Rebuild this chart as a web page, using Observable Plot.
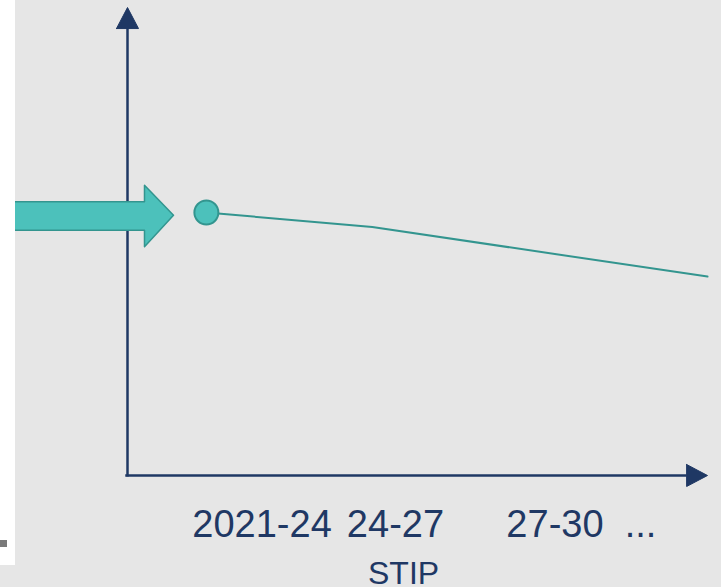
<!DOCTYPE html>
<html>
<head>
<meta charset="utf-8">
<script src="https://cdn.jsdelivr.net/npm/d3@7"></script>
<script src="https://cdn.jsdelivr.net/npm/@observablehq/plot@0.6"></script>
<style>
  html, body { margin: 0; padding: 0; background: #e6e6e6; }
  #wrap { position: relative; width: 721px; height: 587px; overflow: hidden; }
  #strip { position: absolute; left: 0; top: 0; width: 15px; height: 565px; background: #ffffff; }
  #sq { position: absolute; left: 0; top: 540px; width: 7px; height: 7px; background: #7a7a7a; }
</style>
</head>
<body>
<div id="wrap"></div>
<script>
// Period labels on the x axis and their positions (x units)
const periods = ["2021-24", "24-27", "27-30", "..."];
const periodPos = [23.2, 46.2, 73.7, 88.45];
const axisTitle = "STIP";

// Trajectory series (x units, y units)
const seriesX = [13.6, 42.2, 100];
const seriesY = [56.2, 53.1, 42.5];

// Annotation: block arrow pointing at the starting point
const blockArrowX = [-25, 2.93, 2.93, 7.93, 2.93, 2.93, -25, -25];
const blockArrowY = [58.5, 58.5, 62.0, 55.6, 48.9, 52.4, 52.4, 58.5];

const navy = "#1f3864";
const teal = "#4cc1bb";
const tealDark = "#33958f";

const series = seriesX.map((x, i) => ({x, y: seriesY[i]}));
const blockArrow = blockArrowX.map((x, i) => ({x, y: blockArrowY[i]}));
const yHead = [{x: -1.9, y: 95.5}, {x: 0, y: 100}, {x: 1.9, y: 95.5}, {x: -1.9, y: 95.5}];
const xHead = [{x: 96.4, y: 2.35}, {x: 100, y: 0}, {x: 96.4, y: -2.35}, {x: 96.4, y: 2.35}];

const chart = Plot.plot({
  width: 721,
  height: 587,
  marginLeft: 127,
  marginRight: 14,
  marginTop: 7,
  marginBottom: 112,
  x: {domain: [0, 100], label: null},
  y: {domain: [0, 100], axis: null},
  style: {background: "#e6e6e6", fontFamily: "'Liberation Sans', Arial, sans-serif", overflow: "visible"},
  marks: [
    Plot.ruleX([0], {y1: -0.3, y2: 96, stroke: navy, strokeWidth: 2.5}),
    Plot.ruleY([0], {x1: -0.3, x2: 96.5, stroke: navy, strokeWidth: 2.5}),
    Plot.line(yHead, {x: "x", y: "y", fill: navy, stroke: navy, strokeWidth: 1}),
    Plot.line(xHead, {x: "x", y: "y", fill: navy, stroke: navy, strokeWidth: 1}),
    Plot.axisX({
      ticks: periodPos,
      tickFormat: (d, i) => periods[i],
      tickSize: 0,
      tickPadding: 35,
      fontSize: 38,
      color: navy,
      label: null
    }),
    Plot.text([axisTitle], {x: 47.6, y: -23.1, text: d => d, lineAnchor: "bottom", fontSize: 32, fill: navy}),
    Plot.line(blockArrow, {x: "x", y: "y", fill: teal, stroke: tealDark, strokeWidth: 1.5}),
    Plot.line(series, {x: "x", y: "y", stroke: tealDark, strokeWidth: 2}),
    Plot.dot(series.slice(0, 1), {x: "x", y: "y", r: 12, fill: teal, stroke: tealDark, strokeWidth: 2})
  ]
});

const wrap = document.getElementById("wrap");
wrap.appendChild(chart);
const strip = document.createElement("div"); strip.id = "strip"; wrap.appendChild(strip);
const sq = document.createElement("div"); sq.id = "sq"; wrap.appendChild(sq);
</script>
</body>
</html>
